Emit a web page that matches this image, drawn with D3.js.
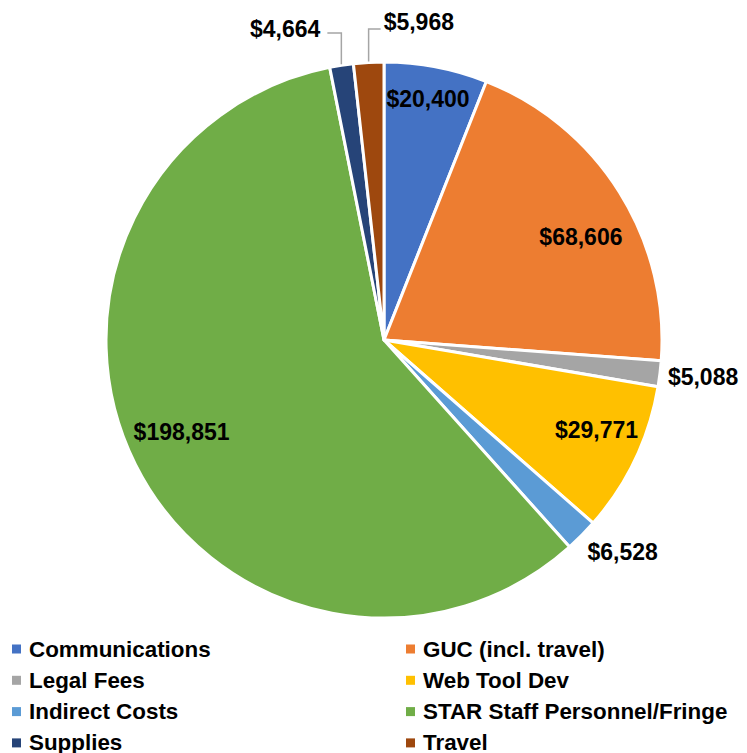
<!DOCTYPE html>
<html>
<head>
<meta charset="utf-8">
<script src="https://cdn.jsdelivr.net/npm/d3@7"></script>
<style>
  body { margin: 0; background: #fff; }
  text { font-family: "Liberation Sans", Arial, sans-serif; font-weight: bold; fill: #000; }
</style>
</head>
<body>
<svg id="chart" width="747" height="753"></svg>
<script>
var categories = ['Communications', 'GUC (incl. travel)', 'Legal Fees', 'Web Tool Dev',
  'Indirect Costs', 'STAR Staff Personnel/Fringe', 'Supplies', 'Travel'];
var values = [20400, 68606, 5088, 29771, 6528, 198851, 4664, 5968];
var colors = ['#4472C4', '#ED7D31', '#A5A5A5', '#FFC000', '#5B9BD5', '#70AD47', '#264478', '#9E480E'];
// where each data label sits: inside, outside, or outside with a leader line
var labelModes = ['in', 'in', 'out', 'in', 'out', 'in', 'leftLeader', 'rightLeader'];
// inside labels: fraction along the slice and fraction of the radius (best-fit look)
var labelAlong = [0.48, 0.56, 0.5, 0.42, 0.5, 0.51, 0.5, 0.5];
var labelRadius = [0.88, 0.8, 1, 0.83, 1, 0.8, 1, 1];

var svg = d3.select('#chart');
var cx = 384, cy = 340, r = 278;
var fmt = d => '$' + d3.format(',')(d);

var data = categories.map((c, i) => ({
  name: c, value: values[i], color: colors[i],
  mode: labelModes[i], along: labelAlong[i], rf: labelRadius[i]
}));

var pie = d3.pie().value(d => d.value).sort(null);
var arcs = pie(data);
var arc = d3.arc().innerRadius(0).outerRadius(r);

var g = svg.append('g').attr('transform', `translate(${cx},${cy})`);

g.selectAll('path.slice')
  .data(arcs).enter()
  .append('path').attr('class', 'slice')
  .attr('d', arc)
  .attr('fill', d => d.data.color)
  .attr('stroke', '#fff')
  .attr('stroke-width', 3)
  .attr('stroke-linejoin', 'round');

function polar(a, rad) {
  return [Math.sin(a) * rad, -Math.cos(a) * rad];
}

var labels = g.append('g');
arcs.forEach(d => {
  var mid = (d.startAngle + d.endAngle) / 2;
  var txt = fmt(d.data.value);
  if (d.data.mode === 'in') {
    var a = d.startAngle + (d.endAngle - d.startAngle) * d.data.along;
    var p = polar(a, r * d.data.rf);
    labels.append('text').attr('x', p[0]).attr('y', p[1])
      .attr('text-anchor', 'middle').attr('dominant-baseline', 'central')
      .style('font-size', '23px').text(txt);
  }
  else if (d.data.mode === 'out') {
    var q = polar(mid, r + 8);
    labels.append('text').attr('x', q[0]).attr('y', q[1] - 15 * Math.cos(mid))
      .attr('text-anchor', 'start').attr('dominant-baseline', 'central')
      .style('font-size', '23px').text(txt);
  }
  else {
    var left = d.data.mode === 'leftLeader';
    var e = polar(mid, r + 1);
    var top = left ? -r - 29 : -r - 33;
    var hx = e[0] + (left ? -14 : 12);
    labels.append('path')
      .attr('d', `M${e[0]},${e[1]}L${e[0]},${top}L${hx},${top}`)
      .attr('fill', 'none').attr('stroke', '#A5A5A5').attr('stroke-width', 1.5);
    labels.append('text').attr('x', hx + (left ? -7 : 3)).attr('y', top - (left ? 4 : 7))
      .attr('text-anchor', left ? 'end' : 'start').attr('dominant-baseline', 'central')
      .style('font-size', '23px').text(txt);
  }
});

// legend, two columns
var legend = svg.append('g');
var colX = [12, 406], rowY0 = 649, rowH = 31.3;
data.forEach((d, i) => {
  var x = colX[i % 2], y = rowY0 + Math.floor(i / 2) * rowH;
  legend.append('rect').attr('x', x).attr('y', y - 4.5).attr('width', 9).attr('height', 9).attr('fill', d.color);
  legend.append('text').attr('x', x + 17).attr('y', y).attr('dominant-baseline', 'central')
    .style('font-size', '22.4px').text(d.name);
});
</script>
</body>
</html>
